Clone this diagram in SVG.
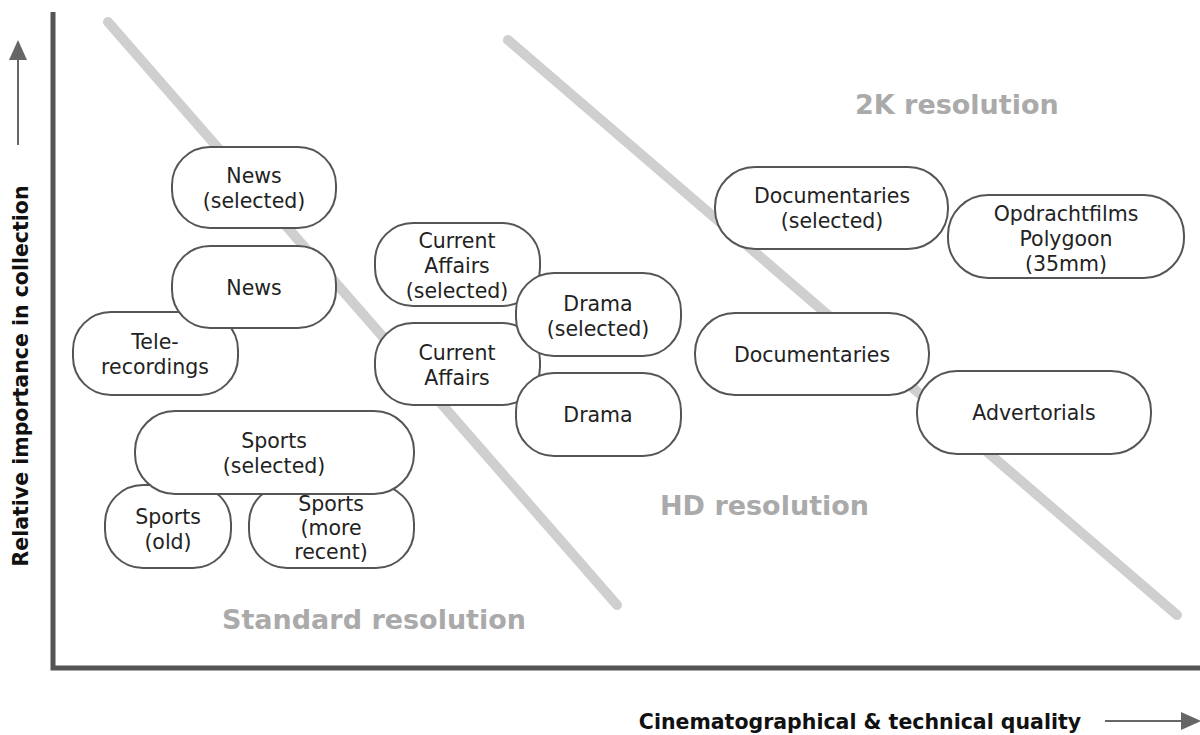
<svg xmlns="http://www.w3.org/2000/svg" width="1200" height="735" viewBox="0 0 1200 735">
<defs>
<style>
.node rect{fill:#fff;stroke:#555;stroke-width:2}
.node text{font-family:"DejaVu Sans",Verdana,sans-serif;font-size:20.5px;fill:#222;text-anchor:middle}
.zone{font-family:"DejaVu Sans",Verdana,sans-serif;font-size:27px;font-weight:bold;fill:#aaa}
.axislbl{font-family:"DejaVu Sans",Verdana,sans-serif;font-size:20.5px;font-weight:bold;fill:#111}
.diag{stroke:#cfcfcf;stroke-width:10;stroke-linecap:round}
.axis{stroke:#555;stroke-width:5;fill:none}
.arr{stroke:#666;stroke-width:2}
</style>
<marker id="ah2" viewBox="0 0 10 10" refX="9" refY="5" markerWidth="20" markerHeight="18" markerUnits="userSpaceOnUse" orient="auto" preserveAspectRatio="none">
<path d="M0,0 L10,5 L0,10 z" fill="#666"/>
</marker>
</defs>
<rect width="1200" height="735" fill="#fff"/>
<g id="dividers">
<line class="diag" x1="108" y1="22" x2="617" y2="605"/>
<line class="diag" x1="508" y1="40" x2="1177" y2="615"/>
</g>
<g id="zones">
<text class="zone" x="855" y="114">2K resolution</text>
<text class="zone" x="660" y="515">HD resolution</text>
<text class="zone" x="222" y="629">Standard resolution</text>
</g>
<g id="axes">
<path class="axis" d="M53,12 L53,668 L1200,668"/>
<text class="axislbl" transform="translate(28,376) rotate(-90)" text-anchor="middle">Relative importance in collection</text>
<line class="arr" x1="18" y1="145" x2="18" y2="42" marker-end="url(#ah2)"/>
<text class="axislbl" x="860" y="729" text-anchor="middle">Cinematographical &amp; technical quality</text>
<line class="arr" x1="1105" y1="721" x2="1199" y2="721" marker-end="url(#ah2)"/>
</g>
<g id="tele" class="node"><rect x="73" y="312" width="165" height="83" rx="38"/><text x="155" y="349">Tele-</text><text x="155" y="374">recordings</text></g>
<g id="news-selected" class="node"><rect x="172" y="147" width="164" height="81" rx="38"/><text x="254" y="183">News</text><text x="254" y="208">(selected)</text></g>
<g id="news" class="node"><rect x="172" y="246" width="164" height="82" rx="38"/><text x="254" y="295">News</text></g>
<g id="sports-old" class="node"><rect x="105" y="485" width="126" height="83" rx="38"/><text x="168" y="524">Sports</text><text x="168" y="549">(old)</text></g>
<g id="sports-recent" class="node"><rect x="249" y="485" width="165" height="83" rx="38"/><text x="331" y="511">Sports</text><text x="331" y="535">(more</text><text x="331" y="559">recent)</text></g>
<g id="sports-selected" class="node"><rect x="135" y="411" width="279" height="83" rx="40"/><text x="274" y="448">Sports</text><text x="274" y="473">(selected)</text></g>
<g id="ca-selected" class="node"><rect x="375" y="223" width="165" height="83" rx="38"/><text x="457" y="248">Current</text><text x="457" y="273">Affairs</text><text x="457" y="298">(selected)</text></g>
<g id="ca" class="node"><rect x="375" y="323" width="165" height="82" rx="38"/><text x="457" y="360">Current</text><text x="457" y="385">Affairs</text></g>
<g id="drama-selected" class="node"><rect x="516" y="273" width="165" height="83" rx="38"/><text x="598" y="311">Drama</text><text x="598" y="336">(selected)</text></g>
<g id="drama" class="node"><rect x="516" y="373" width="165" height="83" rx="38"/><text x="598" y="422">Drama</text></g>
<g id="doc-selected" class="node"><rect x="715" y="167" width="233" height="82" rx="40"/><text x="832" y="203">Documentaries</text><text x="832" y="228">(selected)</text></g>
<g id="polygoon" class="node"><rect x="948" y="195" width="236" height="83" rx="40"/><text x="1066" y="221">Opdrachtfilms</text><text x="1066" y="246">Polygoon</text><text x="1066" y="271">(35mm)</text></g>
<g id="doc" class="node"><rect x="695" y="313" width="234" height="82" rx="40"/><text x="812" y="362">Documentaries</text></g>
<g id="advertorials" class="node"><rect x="917" y="371" width="234" height="83" rx="40"/><text x="1034" y="420">Advertorials</text></g>
</svg>
